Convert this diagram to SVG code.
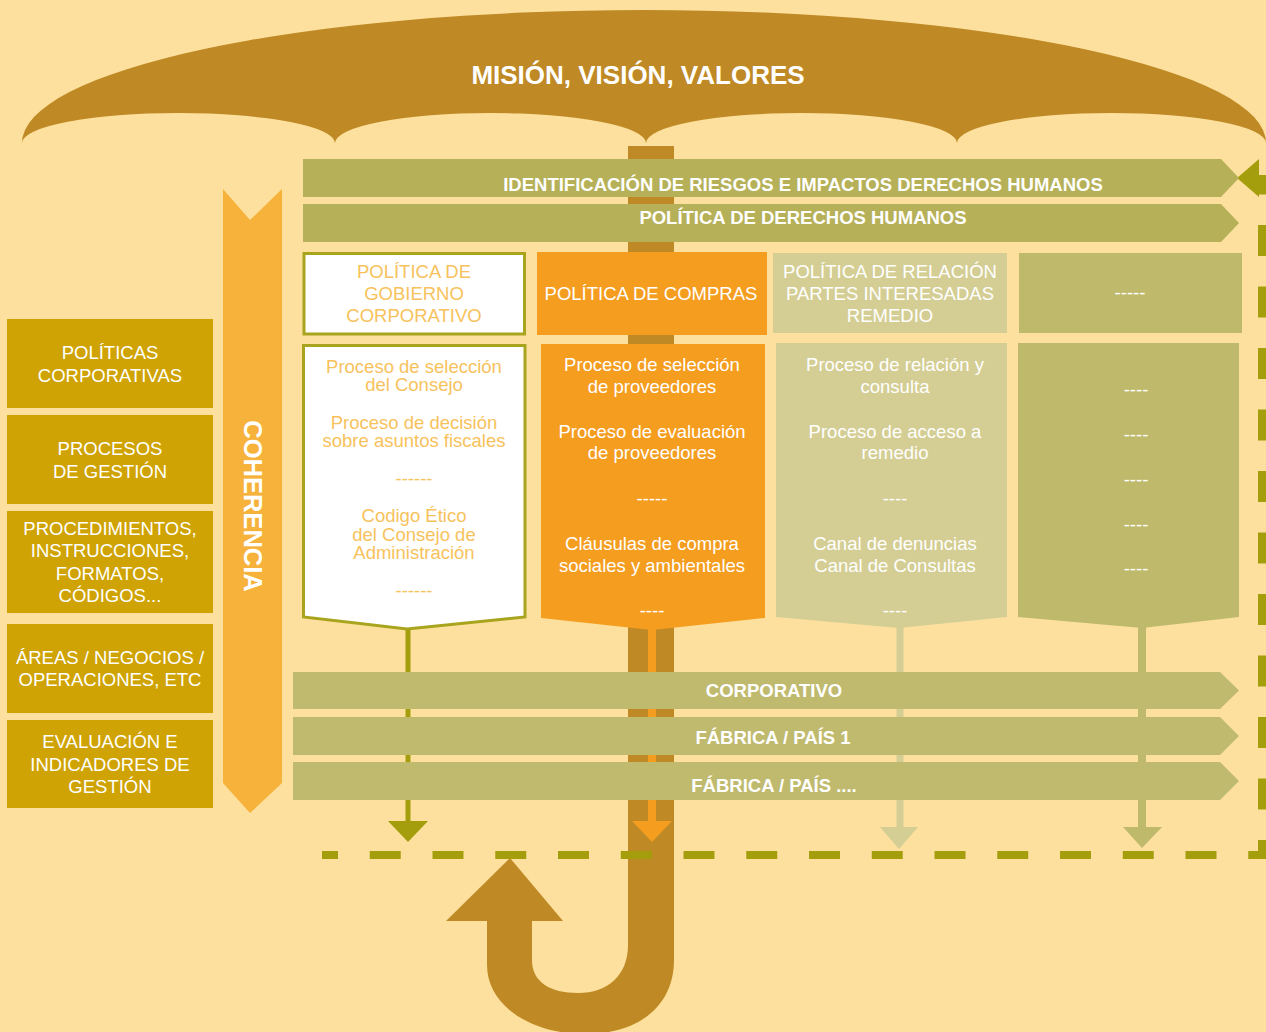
<svg xmlns="http://www.w3.org/2000/svg" width="1266" height="1032" viewBox="0 0 1266 1032">
<style>
.t{font-family:"Liberation Sans",Arial,sans-serif;font-size:18.5px;text-anchor:middle}
.b{font-weight:bold}
.w{fill:#FFFFFF}
.o{fill:#F7C25C}
.umb{fill:#BF8A25}
.band1{fill:#B6B058}
.band2{fill:#C0BA6E}
.lbox{fill:#CFA303}
.olive{fill:#A59E0C}
</style>
<rect x="0" y="0" width="1266" height="1032" fill="#FDE09E"/>

<g id="umbrella">
<path class="umb" d="M22,143 A622,133 0 0 1 1266,143 A154.5,30 0 0 0 957,143 A155.5,30 0 0 0 646,143 A155.5,30 0 0 0 335,143 A156.5,30 0 0 0 22,143 Z"/>
<text class="t b w" x="638" y="84" style="font-size:26px">MISIÓN, VISIÓN, VALORES</text>
<path class="umb" d="M674,146 V960 C674,1005 640,1034 585,1034 C530,1034 487,1005 487,965 V921 H532 V960 C532,982 550,993 578,993 C608,993 628,975 628,945 V146 Z"/>
<polygon class="umb" points="510,858 446,921 563,921"/>
</g>

<g id="connectors">
<line x1="408" y1="628" x2="408" y2="823" stroke="#A59E0C" stroke-width="5"/>
<polygon class="olive" points="388,821 428,821 408,842"/>
<line x1="652" y1="628" x2="652" y2="823" stroke="#F59D1F" stroke-width="8"/>
<polygon fill="#F59D1F" points="632,821 672,821 652,842"/>
<line x1="900" y1="626" x2="900" y2="829" stroke="#D4CE94" stroke-width="7"/>
<polygon fill="#D4CE94" points="880,827 918,827 899,849"/>
<line x1="1142" y1="626" x2="1142" y2="829" stroke="#BFB96C" stroke-width="8"/>
<polygon fill="#BFB96C" points="1123,827 1162,827 1142,848"/>
<path d="M322,855 H1258" fill="none" stroke="#A59E0C" stroke-width="8" stroke-dasharray="31 31.75" stroke-dashoffset="15"/>
<path d="M1262,859 V175" fill="none" stroke="#A59E0C" stroke-width="8" stroke-dasharray="31 30.5" stroke-dashoffset="12"/>
<polygon class="olive" points="1237,178 1259,159 1259,197"/>
</g>

<g id="band-riesgos">
<path class="band1" d="M303,159 H1221 L1239,178 L1221,197 H303 Z"/>
<text class="t b w" x="803" y="191">IDENTIFICACIÓN DE RIESGOS E IMPACTOS DERECHOS HUMANOS</text>
</g>
<g id="band-politica-dh">
<path class="band1" d="M303,204 H1221 L1239,223 L1221,242 H303 Z"/>
<text class="t b w" x="803" y="224">POLÍTICA DE DERECHOS HUMANOS</text>
</g>

<g id="col1-header">
<rect x="304" y="253.5" width="220.5" height="80.5" fill="#FFFFFF" stroke="#A9A41D" stroke-width="3"/>
<text class="t o" x="414" y="278">POLÍTICA DE</text>
<text class="t o" x="414" y="300">GOBIERNO</text>
<text class="t o" x="414" y="322">CORPORATIVO</text>
</g>
<g id="col1-body">
<path d="M303.5,345.5 H525 V617 L407,629 L303.5,617 Z" fill="#FFFFFF" stroke="#A9A41D" stroke-width="3"/>
<text class="t o" x="414" y="373">Proceso de selección</text>
<text class="t o" x="414" y="391">del Consejo</text>
<text class="t o" x="414" y="429">Proceso de decisión</text>
<text class="t o" x="414" y="447">sobre asuntos fiscales</text>
<text class="t o" x="414" y="484.5">------</text>
<text class="t o" x="414" y="522">Codigo Ético</text>
<text class="t o" x="414" y="541">del Consejo de</text>
<text class="t o" x="414" y="559">Administración</text>
<text class="t o" x="414" y="596.5">------</text>
</g>

<g id="col2-header">
<rect x="537" y="252" width="230" height="83" fill="#F59D1F"/>
<text class="t w" x="651" y="300">POLÍTICA DE COMPRAS</text>
</g>
<g id="col2-body">
<path d="M541,344 H765 V618 L652,630 L541,618 Z" fill="#F59D1F"/>
<text class="t w" x="652" y="371">Proceso de selección</text>
<text class="t w" x="652" y="393">de proveedores</text>
<text class="t w" x="652" y="438">Proceso de evaluación</text>
<text class="t w" x="652" y="459">de proveedores</text>
<text class="t w" x="652" y="504.5">-----</text>
<text class="t w" x="652" y="550">Cláusulas de compra</text>
<text class="t w" x="652" y="572">sociales y ambientales</text>
<text class="t w" x="652" y="616.5">----</text>
</g>

<g id="col3-header">
<rect x="773" y="253" width="234" height="80" fill="#D4CE94"/>
<text class="t w" x="890" y="278">POLÍTICA DE RELACIÓN</text>
<text class="t w" x="890" y="300">PARTES INTERESADAS</text>
<text class="t w" x="890" y="322">REMEDIO</text>
</g>
<g id="col3-body">
<path d="M776,343 H1007 V617 L899,628 L776,617 Z" fill="#D4CE94"/>
<text class="t w" x="895" y="371">Proceso de relación y</text>
<text class="t w" x="895" y="393">consulta</text>
<text class="t w" x="895" y="438">Proceso de acceso a</text>
<text class="t w" x="895" y="459">remedio</text>
<text class="t w" x="895" y="504.5">----</text>
<text class="t w" x="895" y="550">Canal de denuncias</text>
<text class="t w" x="895" y="572">Canal de Consultas</text>
<text class="t w" x="895" y="616.5">----</text>
</g>

<g id="col4-header">
<rect x="1019" y="253" width="223" height="80" fill="#BFB96C"/>
<text class="t w" x="1130" y="298.5">-----</text>
</g>
<g id="col4-body">
<path d="M1018,343 H1239 V617 L1142,628 L1018,617 Z" fill="#BFB96C"/>
<text class="t w" x="1136" y="395.5">----</text>
<text class="t w" x="1136" y="440.5">----</text>
<text class="t w" x="1136" y="485.5">----</text>
<text class="t w" x="1136" y="530.5">----</text>
<text class="t w" x="1136" y="574.5">----</text>
</g>

<g id="band-corporativo">
<path class="band2" d="M293,672 H1220 L1239,690.5 L1220,709 H293 Z"/>
<text class="t b w" x="774" y="697">CORPORATIVO</text>
</g>
<g id="band-fabrica1">
<path class="band2" d="M293,717 H1220 L1239,736 L1220,755 H293 Z"/>
<text class="t b w" x="773" y="744">FÁBRICA / PAÍS 1</text>
</g>
<g id="band-fabrica2">
<path class="band2" d="M293,762 H1220 L1239,781 L1220,800 H293 Z"/>
<text class="t b w" x="774" y="792">FÁBRICA / PAÍS ....</text>
</g>

<g id="coherencia">
<path d="M223,189 L250,220 L282,189 V783 L250,813 L223,783 Z" fill="#F6B23A"/>
<text class="t b w" transform="translate(243.5,506) rotate(90)" x="0" y="0" style="font-size:25.5px">COHERENCIA</text>
</g>

<g id="box-politicas">
<rect class="lbox" x="7" y="319" width="206" height="89"/>
<text class="t w" x="110" y="358.6">POLÍTICAS</text>
<text class="t w" x="110" y="381.6">CORPORATIVAS</text>
</g>
<g id="box-procesos">
<rect class="lbox" x="7" y="415" width="206" height="89"/>
<text class="t w" x="110" y="454.6">PROCESOS</text>
<text class="t w" x="110" y="477.6">DE GESTIÓN</text>
</g>
<g id="box-procedimientos">
<rect class="lbox" x="7" y="511" width="206" height="102"/>
<text class="t w" x="110" y="534.6">PROCEDIMIENTOS,</text>
<text class="t w" x="110" y="557.2">INSTRUCCIONES,</text>
<text class="t w" x="110" y="579.8">FORMATOS,</text>
<text class="t w" x="110" y="602.4">CÓDIGOS...</text>
</g>
<g id="box-areas">
<rect class="lbox" x="7" y="624" width="206" height="89"/>
<text class="t w" x="110" y="663.6">ÁREAS / NEGOCIOS /</text>
<text class="t w" x="110" y="685.6">OPERACIONES, ETC</text>
</g>
<g id="box-evaluacion">
<rect class="lbox" x="7" y="720" width="206" height="88"/>
<text class="t w" x="110" y="748">EVALUACIÓN E</text>
<text class="t w" x="110" y="770.6">INDICADORES DE</text>
<text class="t w" x="110" y="793">GESTIÓN</text>
</g>
</svg>
